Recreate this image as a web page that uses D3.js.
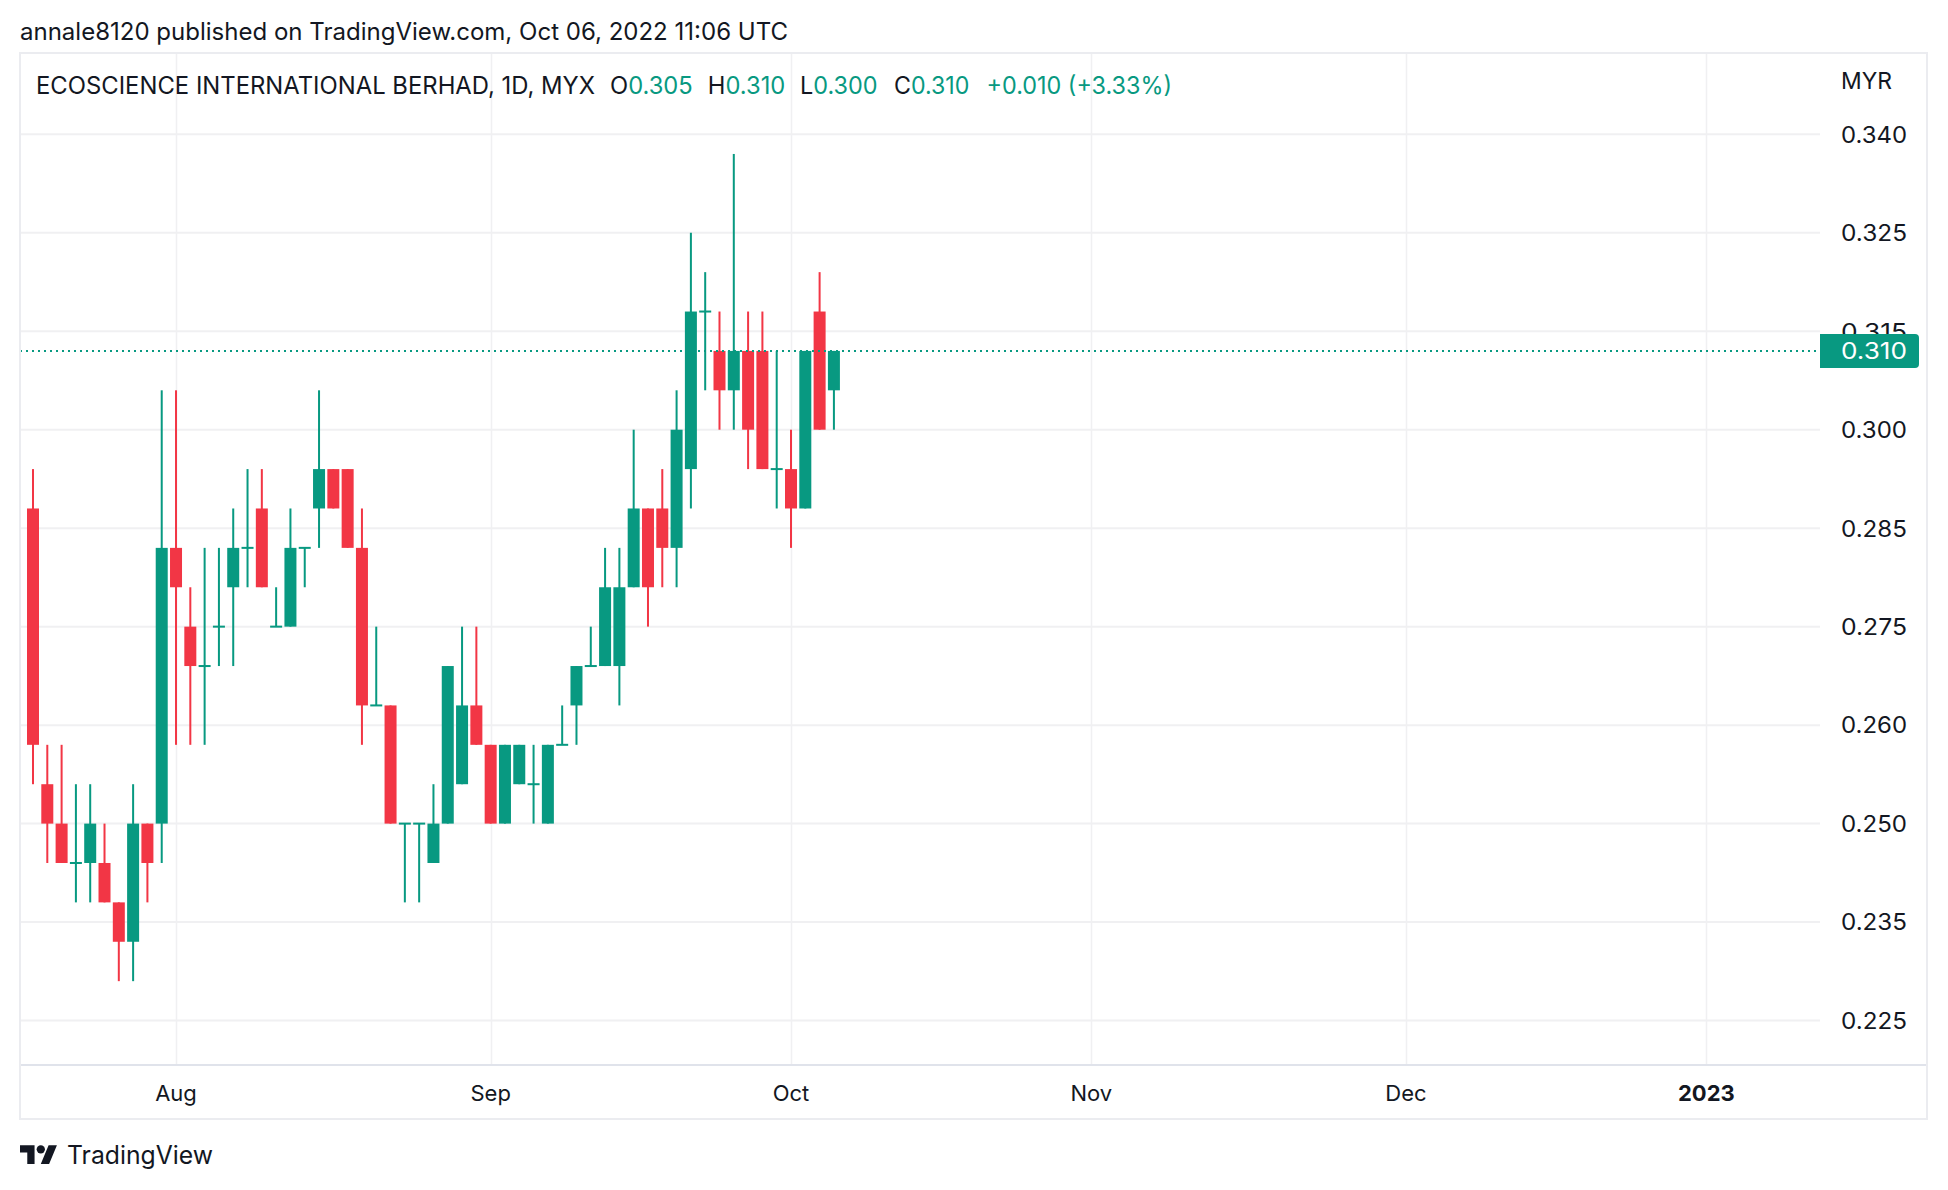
<!DOCTYPE html>
<html>
<head>
<meta charset="utf-8">
<script src="https://cdn.jsdelivr.net/npm/d3@7/dist/d3.min.js"></script>
<style>
  html, body { margin: 0; padding: 0; background: #ffffff; }
  svg { display: block; font-family: Inter, "Noto Sans", Roboto, sans-serif; }
</style>
</head>
<body>
<svg id="chart" width="1948" height="1190"></svg>
<script>
// ---------------- DATA ----------------
const dates = [
  "2022-07-18","2022-07-19","2022-07-20","2022-07-21","2022-07-22",
  "2022-07-25","2022-07-26","2022-07-27","2022-07-28","2022-07-29",
  "2022-08-01","2022-08-02","2022-08-03","2022-08-04","2022-08-05",
  "2022-08-08","2022-08-09","2022-08-10","2022-08-11","2022-08-12",
  "2022-08-15","2022-08-16","2022-08-17","2022-08-18","2022-08-19",
  "2022-08-22","2022-08-23","2022-08-24","2022-08-25","2022-08-26",
  "2022-08-29","2022-08-30",
  "2022-09-01","2022-09-02","2022-09-05","2022-09-06","2022-09-07",
  "2022-09-08","2022-09-09","2022-09-12","2022-09-13","2022-09-14",
  "2022-09-15","2022-09-19","2022-09-20","2022-09-21","2022-09-22",
  "2022-09-23","2022-09-26","2022-09-27","2022-09-28","2022-09-29","2022-09-30",
  "2022-10-03","2022-10-04","2022-10-05","2022-10-06"
];
const open = [
  0.290,0.255,0.250,0.245,0.245,0.245,0.240,0.235,0.250,0.250,
  0.285,0.275,0.270,0.275,0.280,0.285,0.290,0.275,0.275,0.285,
  0.290,0.295,0.295,0.285,0.265,0.265,0.250,0.250,0.245,0.250,
  0.255,0.265,
  0.260,0.250,0.255,0.255,0.250,0.260,0.265,0.270,0.270,0.270,
  0.280,0.290,0.290,0.285,0.295,0.315,0.310,0.305,0.310,0.310,0.295,
  0.295,0.290,0.315,0.305
];
const high = [
  0.295,0.260,0.260,0.255,0.255,0.250,0.240,0.255,0.250,0.305,
  0.305,0.280,0.285,0.285,0.290,0.295,0.295,0.280,0.290,0.285,
  0.305,0.295,0.295,0.290,0.275,0.265,0.250,0.250,0.255,0.270,
  0.275,0.275,
  0.260,0.260,0.260,0.260,0.260,0.265,0.270,0.275,0.285,0.285,
  0.300,0.290,0.295,0.305,0.325,0.320,0.315,0.335,0.315,0.315,0.310,
  0.300,0.310,0.320,0.310
];
const low = [
  0.255,0.245,0.245,0.240,0.240,0.240,0.230,0.230,0.240,0.245,
  0.260,0.260,0.260,0.270,0.270,0.280,0.280,0.275,0.275,0.280,
  0.285,0.290,0.285,0.260,0.265,0.250,0.240,0.240,0.245,0.250,
  0.255,0.260,
  0.250,0.250,0.255,0.250,0.250,0.260,0.260,0.270,0.270,0.265,
  0.280,0.275,0.280,0.280,0.290,0.305,0.300,0.300,0.295,0.295,0.290,
  0.285,0.290,0.300,0.300
];
const close = [
  0.260,0.250,0.245,0.245,0.250,0.240,0.235,0.250,0.245,0.285,
  0.280,0.270,0.270,0.275,0.285,0.285,0.280,0.275,0.285,0.285,
  0.295,0.290,0.285,0.265,0.265,0.250,0.250,0.250,0.250,0.270,
  0.265,0.260,
  0.250,0.260,0.260,0.255,0.260,0.260,0.270,0.270,0.280,0.280,
  0.290,0.280,0.285,0.300,0.315,0.315,0.305,0.310,0.300,0.295,0.295,
  0.290,0.310,0.300,0.310
];
const priceTicks = [0.3375, 0.325, 0.3125, 0.300, 0.2875, 0.275, 0.2625, 0.250, 0.2375, 0.225];
const priceTickLabels = ["0.340","0.325","0.315","0.300","0.285","0.275","0.260","0.250","0.235","0.225"];
const monthTickLabels = ["Aug","Sep","Oct","Nov","Dec","2023"];
const exchangeHolidays = ["2022-08-31","2022-09-16","2022-12-26"];
const axisEnd = "2023-01-31";

const symbolTitle = "ECOSCIENCE INTERNATIONAL BERHAD, 1D, MYX";
const publishText = "annale8120 published on TradingView.com, Oct 06, 2022 11:06 UTC";
const currency = "MYR";

// ---------------- LAYOUT ----------------
const W = 1948, H = 1190;
const frame = {left: 20, right: 1927, top: 53, bottom: 1119};
const pane = {left: 20, right: 1820, top: 53, bottom: 1065};
const firstBarX = 33, barSpacing = 14.302;
const bodyW = 12, wickW = 2;
const UP = "#089981", DOWN = "#F23645", TXT = "#131722";
const GRID = "#F0F0F2", BORDER = "#E0E3EB";

const svg = d3.select("#chart");
svg.append("rect").attr("width", W).attr("height", H).attr("fill", "#fff");

// trading calendar for the time axis
const holidaySet = new Set(exchangeHolidays);
const fmt = d3.utcFormat("%Y-%m-%d");
const calendar = d3.utcDays(new Date(dates[0] + "T00:00:00Z"), new Date(axisEnd + "T00:00:00Z"))
  .filter(d => d.getUTCDay() !== 0 && d.getUTCDay() !== 6 && !holidaySet.has(fmt(d)));
const calIndex = new Map(calendar.map((d, i) => [fmt(d), i]));

const x = d3.scaleLinear().domain([0, 1]).range([firstBarX, firstBarX + barSpacing]);
const y = d3.scaleLinear().domain([0.25, 0.30]).range([823.6, 429.7]);

const bars = dates.map((d, i) => ({date: d, idx: calIndex.get(d), o: open[i], h: high[i], l: low[i], c: close[i]}));

// month ticks = first trading day of each month after the first
const monthTicks = [];
calendar.forEach((d, i) => {
  if (i > 0 && d.getUTCMonth() !== calendar[i - 1].getUTCMonth()) monthTicks.push(i);
});

// ---------------- GRID ----------------
const grid = svg.append("g");
grid.selectAll("line.v").data(monthTicks).join("line")
  .attr("x1", d => Math.round(x(d)) + 0.5).attr("x2", d => Math.round(x(d)) + 0.5)
  .attr("y1", pane.top).attr("y2", pane.bottom)
  .attr("stroke", GRID).attr("stroke-width", 1.5);
grid.selectAll("line.h").data(priceTicks).join("line")
  .attr("x1", pane.left).attr("x2", pane.right)
  .attr("y1", d => y(d)).attr("y2", d => y(d))
  .attr("stroke", GRID).attr("stroke-width", 2);

// ---------------- CANDLES ----------------
svg.append("defs").append("clipPath").attr("id", "paneClip")
  .append("rect").attr("x", pane.left).attr("y", pane.top)
  .attr("width", pane.right - pane.left).attr("height", pane.bottom - pane.top);
const cg = svg.append("g").attr("clip-path", "url(#paneClip)");
const candle = cg.selectAll("g.c").data(bars).join("g");
candle.append("rect")
  .attr("x", d => x(d.idx) - wickW / 2).attr("width", wickW)
  .attr("y", d => y(d.h)).attr("height", d => Math.max(0, y(d.l) - y(d.h)))
  .attr("fill", d => d.c >= d.o ? UP : DOWN);
candle.append("rect")
  .attr("x", d => x(d.idx) - bodyW / 2).attr("width", bodyW)
  .attr("y", d => {
    const t = y(Math.max(d.o, d.c)), b = y(Math.min(d.o, d.c));
    return b - t < 2 ? (t + b) / 2 - 1 : t;
  })
  .attr("height", d => Math.max(2, y(Math.min(d.o, d.c)) - y(Math.max(d.o, d.c))))
  .attr("fill", d => d.c >= d.o ? UP : DOWN);

// ---------------- LAST PRICE LINE ----------------
const last = bars[bars.length - 1];
const prev = bars[bars.length - 2];
svg.append("line")
  .attr("x1", pane.left).attr("x2", pane.right)
  .attr("y1", y(last.c)).attr("y2", y(last.c))
  .attr("stroke", UP).attr("stroke-width", 2).attr("stroke-dasharray", "2 4");

// ---------------- FRAME ----------------
svg.append("line").attr("x1", frame.left).attr("x2", frame.right)
  .attr("y1", pane.bottom).attr("y2", pane.bottom)
  .attr("stroke", BORDER).attr("stroke-width", 2);
svg.append("rect").attr("x", frame.left).attr("y", frame.top)
  .attr("width", frame.right - frame.left).attr("height", frame.bottom - frame.top)
  .attr("fill", "none").attr("stroke", "#EBECF0").attr("stroke-width", 2);

// ---------------- PRICE AXIS ----------------
const pa = svg.append("g");
const fsP = 23;
pa.selectAll("text").data(priceTicks).join("text")
  .attr("x", 1841).attr("y", d => y(d) + fsP * 0.364)
  .attr("font-size", fsP).attr("fill", TXT)
  .attr("textLength", 66).attr("lengthAdjust", "spacingAndGlyphs")
  .text((d, i) => priceTickLabels[i]);
pa.append("text").attr("x", 1841).attr("y", 81 + fsP * 0.364)
  .attr("font-size", fsP).attr("fill", TXT)
  .attr("textLength", 51).attr("lengthAdjust", "spacingAndGlyphs")
  .text(currency);

// last price label
const ly = y(last.c);
const boxH = 34, boxX = pane.right, boxW = 99, r = 4;
pa.append("path")
  .attr("d", `M${boxX},${ly - boxH / 2} H${boxX + boxW - r} Q${boxX + boxW},${ly - boxH / 2} ${boxX + boxW},${ly - boxH / 2 + r}
              V${ly + boxH / 2 - r} Q${boxX + boxW},${ly + boxH / 2} ${boxX + boxW - r},${ly + boxH / 2} H${boxX} Z`)
  .attr("fill", UP);
pa.append("text").attr("x", 1841).attr("y", ly + fsP * 0.364)
  .attr("font-size", fsP).attr("fill", "#fff")
  .attr("textLength", 66).attr("lengthAdjust", "spacingAndGlyphs")
  .text(d3.format(".3f")(last.c));

// ---------------- TIME AXIS ----------------
const ta = svg.append("g");
const fsT = 22;
ta.selectAll("text").data(monthTicks.slice(0, monthTickLabels.length)).join("text")
  .attr("x", d => x(d)).attr("y", 1093 + fsT * 0.364)
  .attr("text-anchor", "middle")
  .attr("font-size", fsT)
  .attr("font-weight", (d, i) => monthTickLabels[i] === "2023" ? 700 : 400)
  .attr("fill", TXT)
  .text((d, i) => monthTickLabels[i]);

// ---------------- HEADER ----------------
svg.append("text").attr("x", 20).attr("y", 31 + 24 * 0.364)
  .attr("font-size", 24).attr("fill", TXT)
  .attr("textLength", 768).attr("lengthAdjust", "spacingAndGlyphs")
  .text(publishText);

const fsH = 24, hy = 85.5 + fsH * 0.364;
svg.append("text").attr("x", 36).attr("y", hy).attr("font-size", fsH).attr("fill", TXT)
  .attr("textLength", 559).attr("lengthAdjust", "spacingAndGlyphs")
  .text(symbolTitle);
const f3 = d3.format(".3f");
const ohlc = [
  {k: "O", v: f3(last.o), x0: 610, x1: 692.7},
  {k: "H", v: f3(last.h), x0: 707.8, x1: 785.3},
  {k: "L", v: f3(last.l), x0: 800, x1: 877.6},
  {k: "C", v: f3(last.c), x0: 894, x1: 969.4}
];
ohlc.forEach(o => {
  const t = svg.append("text").attr("x", o.x0).attr("y", hy).attr("font-size", fsH)
    .attr("textLength", o.x1 - o.x0).attr("lengthAdjust", "spacingAndGlyphs");
  t.append("tspan").attr("fill", TXT).text(o.k);
  t.append("tspan").attr("fill", UP).text(o.v);
});
const chg = last.c - prev.c;
const pct = chg / prev.c * 100;
svg.append("text").attr("x", 986.5).attr("y", hy).attr("font-size", fsH).attr("fill", UP)
  .attr("textLength", 1172 - 986.5).attr("lengthAdjust", "spacingAndGlyphs")
  .text(`${chg >= 0 ? "+" : ""}${f3(chg)} (${chg >= 0 ? "+" : ""}${pct.toFixed(2)}%)`);

// ---------------- FOOTER LOGO ----------------
const logo = svg.append("g").attr("transform", "translate(20,1141) scale(1.04)").attr("fill", TXT);
logo.append("path").attr("d", "M14 22H7V11H0V4h14v18zM28 22h-8l7.5-18h8L28 22z");
logo.append("circle").attr("cx", 20).attr("cy", 8).attr("r", 4);
svg.append("text").attr("x", 67).attr("y", 1164).attr("font-size", 25).attr("fill", TXT)
  .attr("textLength", 146).attr("lengthAdjust", "spacingAndGlyphs")
  .text("TradingView");
</script>
</body>
</html>
